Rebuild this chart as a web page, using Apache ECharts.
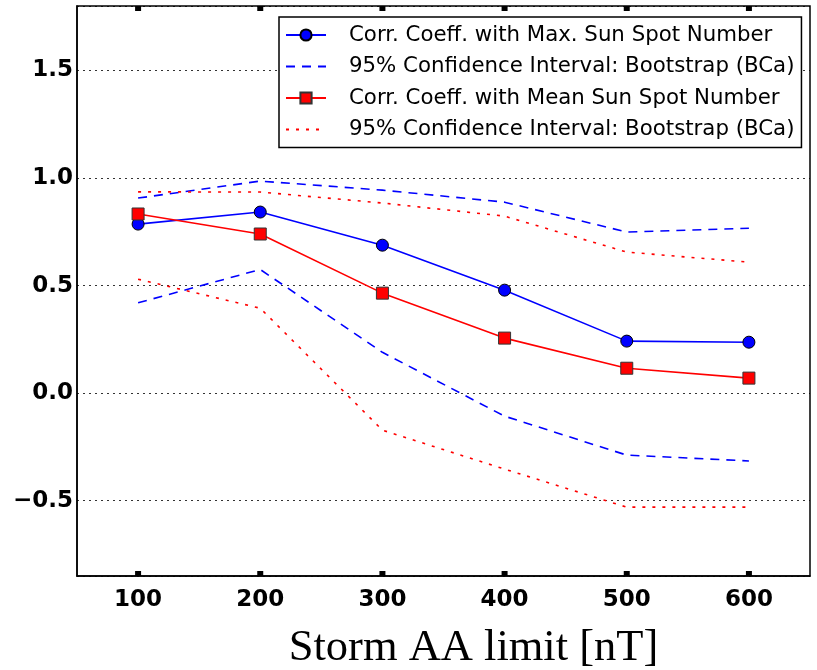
<!DOCTYPE html>
<html>
<head>
<meta charset="utf-8">
<script src="https://cdn.jsdelivr.net/npm/echarts@6/dist/echarts.min.js"></script>
<style>html,body{margin:0;padding:0;background:#fff}#c{width:817px;height:670px}</style>
</head>
<body>
<div id="c"></div>
<script>
var categories = [100, 200, 300, 400, 500, 600];
var maxSSN = [0.786, 0.842, 0.688, 0.479, 0.242, 0.237];
var maxCIUpper = [0.907, 0.986, 0.944, 0.888, 0.749, 0.767];
var maxCILower = [0.420, 0.575, 0.190, -0.107, -0.288, -0.315];
var meanSSN = [0.833, 0.740, 0.465, 0.256, 0.116, 0.070];
var meanCIUpper = [0.936, 0.935, 0.884, 0.823, 0.656, 0.609];
var meanCILower = [0.530, 0.395, -0.172, -0.353, -0.530, -0.530];
var yTicks = [-0.5, 0.0, 0.5, 1.0, 1.5];
var xTicks = [100, 200, 300, 400, 500, 600];
var yMin = -0.85, yMax = 1.8;

var nameMax = 'Corr. Coeff. with Max. Sun Spot Number';
var nameCI1 = '95% Confidence Interval: Bootstrap (BCa)';
var nameMean = 'Corr. Coeff. with Mean Sun Spot Number';
var nameCI2 = '95% Confidence Interval: Bootstrap (BCa) ';

function pairs(vals) { return categories.map(function (c, i) { return [c, vals[i]]; }); }

var chart = echarts.init(document.getElementById('c'), null, {renderer: 'canvas'});
chart.setOption({
  animation: false,
  backgroundColor: '#fff',
  grid: {left: 77, right: 7, top: 6, bottom: 94, show: false, outerBoundsMode: 'none', containLabel: false},
  legend: {
    left: 279, top: 17, orient: 'vertical',
    padding: [6, 7, 6, 6],
    itemGap: 7.5,
    itemWidth: 40, itemHeight: 14,
    borderColor: '#000', borderWidth: 1.5, backgroundColor: '#fff',
    textStyle: {fontFamily: 'DejaVu Sans', fontSize: 21.3, lineHeight: 24, color: '#000', padding: [0, 0, 0, 18]},
    formatter: function (n) { return n.trim(); },
    data: [
      {name: nameMax},
      {name: nameCI1, itemStyle: {opacity: 0}},
      {name: nameMean},
      {name: nameCI2, itemStyle: {opacity: 0}}
    ]
  },
  xAxis: {
    type: 'value', min: 50, max: 650,
    axisLine: {show: true, onZero: false, lineStyle: {color: '#000', width: 1.5}},
    axisTick: {show: false},
    axisLabel: {customValues: xTicks, fontFamily: 'DejaVu Sans', fontWeight: 'bold', fontSize: 23, color: '#000', margin: 13},
    splitLine: {show: false},
    name: 'Storm AA limit [nT]', nameLocation: 'middle', nameGap: 50,
    nameTextStyle: {fontFamily: 'Liberation Serif', fontSize: 44.5, color: '#000', padding: [0, 0, 0, 60]}
  },
  yAxis: {
    type: 'value', min: yMin, max: yMax,
    axisLine: {show: true, onZero: false, lineStyle: {color: '#000', width: 1.5}},
    axisTick: {show: false},
    axisLabel: {customValues: yTicks, fontFamily: 'DejaVu Sans', fontWeight: 'bold', fontSize: 23, color: '#000', margin: 4,
      formatter: function (v) { return (v < 0 ? '\u2212' : '') + Math.abs(v).toFixed(1); }},
    splitLine: {show: true, lineStyle: {color: '#333', type: [2, 4], width: 1}}
  },
  series: [
    {name: nameMax, type: 'line', data: pairs(maxSSN), symbol: 'circle', symbolSize: 12,
      lineStyle: {color: '#0000ff', width: 1.6}, itemStyle: {color: '#0000ff', borderColor: '#000', borderWidth: 1}, z: 5},
    {name: nameCI1, type: 'line', data: pairs(maxCIUpper), symbol: 'none',
      lineStyle: {color: '#0000ff', width: 1.6, type: [9, 7]}, itemStyle: {color: '#0000ff'}},
    {name: nameCI1, type: 'line', data: pairs(maxCILower), symbol: 'none',
      lineStyle: {color: '#0000ff', width: 1.6, type: [9, 7]}, itemStyle: {color: '#0000ff'}},
    {name: nameMean, type: 'line', data: pairs(meanSSN), symbol: 'rect', symbolSize: 12,
      lineStyle: {color: '#ff0000', width: 1.6}, itemStyle: {color: '#ff0000', borderColor: '#333', borderWidth: 1}, z: 5},
    {name: nameCI2, type: 'line', data: pairs(meanCIUpper), symbol: 'none',
      lineStyle: {color: '#ff0000', width: 1.6, type: [3, 7]}, itemStyle: {color: '#ff0000'}},
    {name: nameCI2, type: 'line', data: pairs(meanCILower), symbol: 'none',
      lineStyle: {color: '#ff0000', width: 1.6, type: [3, 7]}, itemStyle: {color: '#ff0000'}},
    {name: 'ticks', type: 'custom', silent: true, clip: false, z: 6,
      data: xTicks.map(function (t) { return [t]; }),
      encode: {x: 0},
      renderItem: function (params, api) {
        var top = api.coord([api.value(0), yMax]);
        var bot = api.coord([api.value(0), yMin]);
        return {type: 'group', children: [
          {type: 'rect', shape: {x: top[0] - 3, y: top[1], width: 6, height: 5}, style: {fill: '#000'}},
          {type: 'rect', shape: {x: bot[0] - 3, y: bot[1] - 5, width: 6, height: 5}, style: {fill: '#000'}}
        ]};
      }
    }
  ],
  graphic: [
    {type: 'rect', shape: {x: 77, y: 6, width: 733, height: 570}, style: {fill: 'none', stroke: '#000', lineWidth: 1.5}, silent: true, z: 1}
  ]
});
</script>
</body>
</html>
